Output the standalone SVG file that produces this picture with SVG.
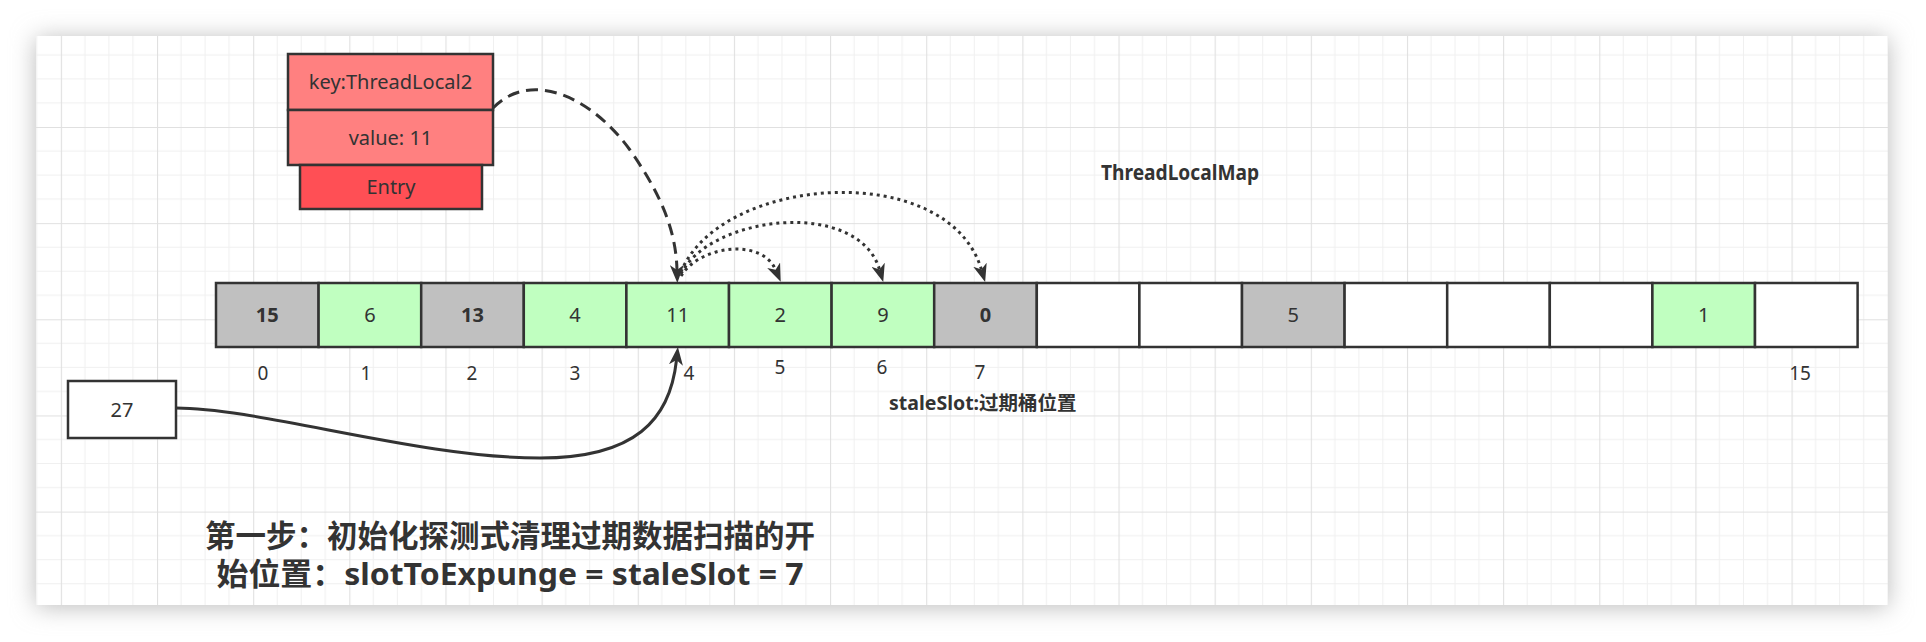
<svg xmlns="http://www.w3.org/2000/svg" width="1926" height="642" viewBox="0 0 1926 642">
  <defs>
    <style>
      text { font-family: 'Noto Sans', 'Noto Sans CJK SC', sans-serif; fill: #333333; }
      .t20 { font-size: 20px; text-anchor: middle; }
      .b20 { font-size: 20px; text-anchor: middle; font-weight: bold; }
      .idx { font-size: 19px; text-anchor: middle; }
      .cell { stroke: #333333; stroke-width: 2.5; }
      .gray { fill: #C0C0C0; }
      .green { fill: #C0FFC0; }
      .white { fill: #FFFFFF; }
      .pink { fill: #FF8080; stroke: #333333; stroke-width: 2.5; }
      .red { fill: #FF4F55; stroke: #333333; stroke-width: 2.5; }
      .edge { fill: none; stroke: #333333; stroke-width: 3; }
      .dashed { stroke-dasharray: 12 7; }
      .dotted { stroke-dasharray: 3 4; }
    </style>
    <filter id="shadow" x="-5%" y="-15%" width="110%" height="130%">
      <feGaussianBlur stdDeviation="12"/>
    </filter>
    <pattern id="grid" patternUnits="userSpaceOnUse" x="60.85" y="30.85" width="96.15" height="96.15">
      <path d="M24.04,0 V96.15 M48.08,0 V96.15 M72.11,0 V96.15 M0,24.04 H96.15 M0,48.08 H96.15 M0,72.11 H96.15" stroke="#F0F0F0" stroke-width="1" fill="none"/>
      <path d="M0.5,0 V96.15 M0,0.5 H96.15" stroke="#E0E0E0" stroke-width="1.2" fill="none"/>
    </pattern>
    <marker id="arrow" viewBox="0 0 18 14" markerWidth="18" markerHeight="14" refX="5" refY="7" orient="auto" markerUnits="userSpaceOnUse">
      <path d="M0,0 L18,7 L0,14 L5,7 Z" fill="#333333"/>
    </marker>
  </defs>

  <!-- page background, shadow and grid canvas -->
  <rect x="0" y="0" width="1926" height="642" fill="#FFFFFF"/>
  <rect x="36" y="38" width="1852" height="569" fill="#BBBBBB" filter="url(#shadow)"/>
  <rect x="36" y="36" width="1852" height="569" fill="#FFFFFF"/>
  <rect x="36" y="36" width="1852" height="569" fill="url(#grid)"/>

  <!-- Entry node -->
  <g id="entry">
    <rect class="pink" x="288" y="54" width="205" height="56"/>
    <text class="t20" x="390.5" y="89">key:ThreadLocal2</text>
    <rect class="pink" x="288" y="110" width="205" height="55"/>
    <text class="t20" x="390.5" y="144.5">value: 11</text>
    <rect class="red" x="300" y="165" width="182" height="44"/>
    <text class="t20" x="391" y="194">Entry</text>
  </g>

  <g id="title-threadlocalmap">
    <text x="1101" y="180" textLength="158" lengthAdjust="spacingAndGlyphs" style="font-size:21px;font-weight:bold">ThreadLocalMap</text>
  </g>

  <!-- array cells -->
  <g id="cell-0"><rect class="cell gray" x="216" y="283" width="102.6" height="64"/><text class="b20" x="267.3" y="322">15</text></g>
  <g id="cell-1"><rect class="cell green" x="318.6" y="283" width="102.6" height="64"/><text class="t20" x="369.9" y="322">6</text></g>
  <g id="cell-2"><rect class="cell gray" x="421.2" y="283" width="102.6" height="64"/><text class="b20" x="472.5" y="322">13</text></g>
  <g id="cell-3"><rect class="cell green" x="523.8" y="283" width="102.6" height="64"/><text class="t20" x="575.1" y="322">4</text></g>
  <g id="cell-4"><rect class="cell green" x="626.4" y="283" width="102.6" height="64"/><text class="t20" x="677.7" y="322">11</text></g>
  <g id="cell-5"><rect class="cell green" x="729" y="283" width="102.6" height="64"/><text class="t20" x="780.3" y="322">2</text></g>
  <g id="cell-6"><rect class="cell green" x="831.6" y="283" width="102.6" height="64"/><text class="t20" x="882.9" y="322">9</text></g>
  <g id="cell-7"><rect class="cell gray" x="934.2" y="283" width="102.6" height="64"/><text class="b20" x="985.5" y="322">0</text></g>
  <g id="cell-8"><rect class="cell white" x="1036.8" y="283" width="102.6" height="64"/></g>
  <g id="cell-9"><rect class="cell white" x="1139.4" y="283" width="102.6" height="64"/></g>
  <g id="cell-10"><rect class="cell gray" x="1242" y="283" width="102.6" height="64"/><text class="t20" x="1293.3" y="322">5</text></g>
  <g id="cell-11"><rect class="cell white" x="1344.6" y="283" width="102.6" height="64"/></g>
  <g id="cell-12"><rect class="cell white" x="1447.2" y="283" width="102.6" height="64"/></g>
  <g id="cell-13"><rect class="cell white" x="1549.8" y="283" width="102.6" height="64"/></g>
  <g id="cell-14"><rect class="cell green" x="1652.4" y="283" width="102.6" height="64"/><text class="t20" x="1703.7" y="322">1</text></g>
  <g id="cell-15"><rect class="cell white" x="1755" y="283" width="102.6" height="64"/></g>

  <!-- index labels -->
  <g id="idx-0"><text class="idx" x="263" y="380">0</text></g>
  <g id="idx-1"><text class="idx" x="366" y="380">1</text></g>
  <g id="idx-2"><text class="idx" x="472" y="380">2</text></g>
  <g id="idx-3"><text class="idx" x="575" y="380">3</text></g>
  <g id="idx-4"><text class="idx" x="689" y="380">4</text></g>
  <g id="idx-5"><text class="idx" x="780" y="374">5</text></g>
  <g id="idx-6"><text class="idx" x="882" y="374">6</text></g>
  <g id="idx-7"><text class="idx" x="980" y="379">7</text></g>
  <g id="idx-15"><text class="idx" x="1800" y="380">15</text></g>

  <g id="label-staleslot">
    <text x="889" y="410" style="font-size:19.5px;font-weight:bold">staleSlot:过期桶位置</text>
  </g>

  <!-- node 27 -->
  <g id="node-27">
    <rect x="68" y="381" width="108" height="57" fill="#FFFFFF" stroke="#333333" stroke-width="2.5"/>
    <text class="t20" x="122" y="417">27</text>
  </g>

  <!-- caption -->
  <g id="caption">
    <text x="510" y="547" style="font-size:30.5px;font-weight:bold;text-anchor:middle">第一步：初始化探测式清理过期数据扫描的开</text>
    <text x="510" y="585" textLength="587" lengthAdjust="spacingAndGlyphs" style="font-size:31px;font-weight:bold;text-anchor:middle">始位置：slotToExpunge = staleSlot = 7</text>
  </g>

  <!-- connectors -->
  <g id="connectors">
    <path class="edge dashed" d="M493,108 C530,70 590,95 630,150 C665,200 676,235 677,270" marker-end="url(#arrow)"/>
    <path class="edge dotted" d="M681,276 C700,245 762,238 775.6,269.8" marker-end="url(#arrow)"/>
    <path class="edge dotted" d="M681,274 C710,215 858,198 879.5,269.5" marker-end="url(#arrow)"/>
    <path class="edge dotted" d="M681,272 C720,175 948,158 981.4,269.5" marker-end="url(#arrow)"/>
    <path class="edge" stroke-width="2.5" d="M176,408 C260,408 420,458 540,458 C635,458 670,420 676.5,360" marker-end="url(#arrow)"/>
  </g>
</svg>
